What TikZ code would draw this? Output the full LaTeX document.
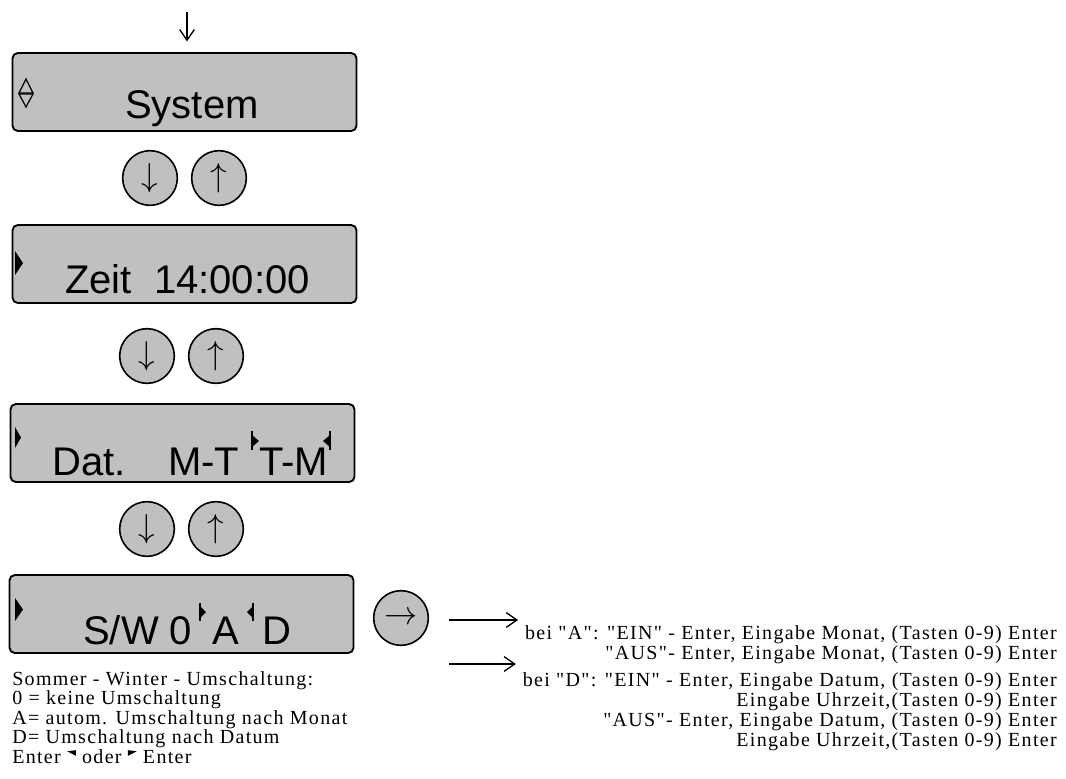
\documentclass[tikz,border=0pt]{standalone}
\usepackage{fontspec}
\setmainfont{Liberation Serif}
\newfontfamily\panelfont{Liberation Sans}
\newfontfamily\notefont[LetterSpace=6.6]{Liberation Serif}
\usetikzlibrary{arrows.meta,positioning,calc}
\definecolor{inkBlack}{RGB}{0,0,0}
\definecolor{panelGray}{RGB}{192,192,192}
\definecolor{paperWhite}{RGB}{255,255,255}

% little enter flags in the last note line
\newcommand{\flagL}{\tikz[x=1pt,y=1pt,baseline=0pt]\fill[inkBlack] (0,8.8)--(6.5,9.6)--(6.5,5.4)--cycle;}
\newcommand{\flagR}{\tikz[x=1pt,y=1pt,baseline=0pt]\fill[inkBlack] (0,9.6)--(6.5,8.8)--(0,5.4)--cycle;}

\tikzset{
  panel/.style={draw=inkBlack, fill=panelGray, line width=1.4pt, rounded corners=4pt,
                minimum width=258pt, minimum height=58.5pt, inner sep=0pt},
  paneltext/.style={anchor=base west, inner sep=0pt, font=\panelfont\fontsize{30pt}{30pt}\selectfont},
  keybtn/.style={circle, draw=inkBlack, fill=panelGray, line width=1.2pt, minimum size=41pt,
                 inner sep=0pt, font=\fontsize{31pt}{31pt}\selectfont},
  note/.style={anchor=base west, inner sep=0pt, font=\notefont\fontsize{15pt}{15pt}\selectfont},
  noteright/.style={note, anchor=base east},
  flow/.style={line width=1pt, -{Straight Barb[length=8pt,width=11pt]}},
  cursormark/.style={fill=inkBlack},
  cursorline/.style={line width=0.9pt},
}

\begin{document}
\begin{tikzpicture}[x=0.75pt,y=-0.75pt]
\useasboundingbox[fill=paperWhite] (0,0) rectangle (1066,778);

% display panels
\node[panel] (sys)  at (184.5,92)  {};
\node[panel] (zeit) at (184.5,264) {};
\node[panel] (dat)  at (182.5,443) {};
\node[panel] (sw)   at (181.5,614) {};

\node[paneltext] (sysText) at (125,118) {System};
\node[paneltext] (zeitText) at (65,293) {Zeit\ \ 14:00:00};
\node[paneltext] (datText) at (52,475) {Dat.};
\node[paneltext] (mtText) at (168,475) {M-T};
\node[paneltext] (tmText) at (259,475) {T-M};
\node[paneltext] (swText) at (83,644) {S/W 0};
\node[paneltext] (aText) at (212,644) {A};
\node[paneltext] (dText) at (262,644) {D};

% cursor marks
\draw[cursorline] (19,93) -- (26,79) -- (33,93) -- cycle;
\draw[cursorline] (19,94) -- (26,107) -- (33,94) -- cycle;
\fill[cursormark] (15,251) -- (23,263) -- (15,275) -- cycle;
\fill[cursormark] (15,427) -- (21,437.5) -- (15,448) -- cycle;
\fill[cursormark] (15,598) -- (23,609.5) -- (15,621) -- cycle;
\draw[cursorline] (252,431) -- (252,450);
\fill[cursormark] (252,435) -- (259,441) -- (252,447) -- cycle;
\draw[cursorline] (330,431) -- (330,450);
\fill[cursormark] (330,435) -- (323,441) -- (330,447) -- cycle;
\draw[cursorline] (200,603) -- (200,621);
\fill[cursormark] (200,606) -- (206,612) -- (200,618) -- cycle;
\draw[cursorline] (253,603) -- (253,621);
\fill[cursormark] (253,606) -- (247,612) -- (253,618) -- cycle;

% keys
\node[keybtn] (downA) at (150,178) {$\downarrow$};
\node[keybtn] (upA)   at (219,178) {$\uparrow$};
\node[keybtn] (downB) at (147,356) {$\downarrow$};
\node[keybtn] (upB)   at (216,356) {$\uparrow$};
\node[keybtn] (downC) at (147,529) {$\downarrow$};
\node[keybtn] (upC)   at (216,529) {$\uparrow$};
\node[keybtn] (enterKey) at (401,618) {$\rightarrow$};

% entry arrow
\coordinate (entry) at (187,12);
\draw[flow] (entry) -- (entry |- sys.north) [shorten >=8pt];

% notes
\node[note] (noteA) at (12,685) {Sommer - Winter - Umschaltung:};
\node[note] (noteB) at (12,704.5) {0 = keine Umschaltung};
\node[note] (noteC) at (12,724) {A= autom. Umschaltung nach Monat};
\node[note] (noteD) at (12,743.5) {D= Umschaltung nach Datum};
\node[note] (noteE) at (12,763) {Enter \flagL{} oder \flagR{} Enter};

\node[noteright] (lineA) at (1057,639) {bei "A": "EIN" - Enter, Eingabe Monat, (Tasten 0-9) Enter};
\node[noteright] (lineB) at (1057,659) {"AUS"- Enter, Eingabe Monat, (Tasten 0-9) Enter};
\node[noteright] (lineC) at (1057,686) {bei "D": "EIN" - Enter, Eingabe Datum, (Tasten 0-9) Enter};
\node[noteright] (lineD) at (1057,706) {Eingabe Uhrzeit,(Tasten 0-9) Enter};
\node[noteright] (lineE) at (1057,726) {"AUS"- Enter, Eingabe Datum, (Tasten 0-9) Enter};
\node[noteright] (lineF) at (1057,746) {Eingabe Uhrzeit,(Tasten 0-9) Enter};

\coordinate (outA) at (449,620);
\coordinate (outC) at (449,664);
\draw[flow] (outA) -- (outA -| lineA.west) [shorten >=5pt];
\draw[flow] (outC) -- (outC -| lineC.west) [shorten >=5pt];
\end{tikzpicture}
\end{document}
